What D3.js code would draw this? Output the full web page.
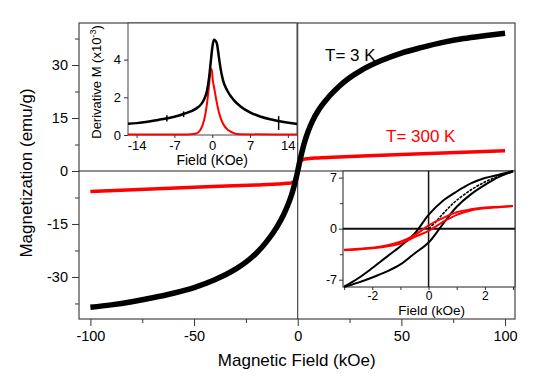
<!DOCTYPE html>
<html>
<head>
<meta charset="utf-8">
<script src="https://cdn.jsdelivr.net/npm/d3@7"></script>
<style>
  body { margin: 0; background: #fff; }
  svg { display: block; font-family: "Liberation Sans", Arial, sans-serif; }
  .tick text { fill: #000; }
</style>
</head>
<body>
<div id="chart"></div>
<script>
// Main M(H) curves (field in kOe, magnetization in emu/g)
const field3K = [-100,-90,-80,-70,-60,-50,-40,-30,-25,-20,-15,-10,-7,-5,-3,-2,-1,0,1,2,3,5,7,10,15,20,25,30,40,50,60,70,80,90,100];
const mag3K   = [-38.6,-37.9,-37.0,-35.9,-34.6,-33.0,-30.8,-27.8,-25.8,-23.3,-20.0,-15.8,-12.6,-10.0,-6.8,-4.8,-2.6,0,2.8,5.3,7.6,11.2,14.0,17.2,21.0,24.0,26.4,28.3,31.2,33.4,35.0,36.4,37.5,38.3,39.0];
const field300K = [-100,-50,-20,-10,-5,-3,-2,-1.5,-1,-0.5,0,0.5,1,1.5,2,3,5,10,20,50,100];
const mag300K   = [-5.8,-4.6,-3.95,-3.7,-3.5,-3.35,-3.1,-2.8,-2.2,-1.3,0,1.3,2.2,2.8,3.1,3.35,3.5,3.7,3.95,4.7,5.75];

// Upper inset: derivative of M (x10^-3)
const dField3K = [-15.6,-14,-12,-10,-8,-6,-4,-3,-2,-1.5,-1,-0.6,-0.3,0,0.3,0.6,0.9,1.2,1.5,2,2.8,4,5.3,7,9,11,13,15.7];
const dMag3K   = [0.6,0.63,0.7,0.8,0.9,1.05,1.25,1.4,1.65,1.9,2.3,3.0,3.8,4.6,5.05,5.0,4.8,4.2,3.6,2.9,2.35,1.85,1.5,1.2,0.97,0.82,0.7,0.58];
const dField300K = [-15.6,-5,-4,-3,-2.2,-1.5,-1,-0.6,-0.3,-0.1,0.1,0.3,0.6,1,1.5,2,3,4,5,15.7];
const dMag300K   = [0.02,0.03,0.04,0.08,0.27,0.8,1.6,2.6,3.5,3.5,2.9,2.6,2.1,1.5,0.95,0.6,0.25,0.1,0.04,0.02];
const dNoiseField = [-8.4, -5.3, 12.3];
const dNoiseLo    = [0.72, 0.95, 0.27];
const dNoiseHi    = [1.05, 1.25, 1.0];

// Lower inset: low-field hysteresis loops
const loopField     = [-3,-2.5,-2,-1.5,-1,-0.5,0,0.5,1,1.5,2,2.5,3];
const loop3KUpper   = [-7.95,-6.8,-5.4,-3.9,-2.4,-0.7,1.9,3.8,5.1,6.2,6.95,7.4,7.9];
const loop3KLower   = [-8.0,-7.4,-6.7,-5.9,-4.9,-3.4,-1.9,0.6,3.0,4.7,6.0,7.1,7.85];
const virginField   = [0,0.25,0.5,0.75,1,1.5,2,2.5,3];
const virgin3K      = [0,0.9,2.0,3.0,3.9,5.3,6.4,7.2,7.85];
const loop300KUpper = [-2.9,-2.75,-2.6,-2.3,-1.8,-0.9,0.45,1.45,2.25,2.65,2.9,3.0,3.1];
const loop300KLower = [-2.95,-2.85,-2.7,-2.45,-2.05,-1.15,-0.3,0.9,1.9,2.5,2.8,2.95,3.1];

const mainXTicks = [-100,-50,0,50,100];
const mainYTicks = [-30,-15,0,15,30];
const topXTicks = [-14,-7,0,7,14];
const topYTicks = [0,2,4];
const lowXTicks = [-2,0,2];
const lowYTicks = [-7,0,7];

const W = 550, H = 382;
const svg = d3.select("#chart").append("svg").attr("width", W).attr("height", H);
const zip = (xs, ys) => xs.map((x, i) => [x, ys[i]]);
const fmt = d => String(d);

// ---------- main panel ----------
const m = { left: 79, right: 515, top: 23, bottom: 319 };
const x = d3.scaleLinear().domain([-105.5, 104.8]).range([m.left, m.right]);
const y = d3.scaleLinear().domain([-41.9, 41.9]).range([m.bottom, m.top]);

function axisStyle(g, size) {
  g.select(".domain").remove();
  g.selectAll(".tick line").attr("stroke", "#333");
  g.selectAll(".tick text").attr("font-size", size);
}

// minor ticks
svg.append("g").attr("transform", `translate(0,${m.bottom})`)
  .call(d3.axisBottom(x).tickValues([-75,-25,25,75]).tickSize(4).tickFormat(""))
  .call(g => axisStyle(g, 0));
svg.append("g").attr("transform", `translate(${m.left},0)`)
  .call(d3.axisLeft(y).tickValues([-37.5,-22.5,-7.5,7.5,22.5,37.5]).tickSize(4).tickFormat(""))
  .call(g => axisStyle(g, 0));
// major ticks
svg.append("g").attr("transform", `translate(0,${m.bottom})`)
  .call(d3.axisBottom(x).tickValues(mainXTicks).tickSize(7).tickPadding(5).tickFormat(fmt))
  .call(g => axisStyle(g, 14.5));
svg.append("g").attr("transform", `translate(${m.left},0)`)
  .call(d3.axisLeft(y).tickValues(mainYTicks).tickSize(7).tickPadding(4).tickFormat(fmt))
  .call(g => axisStyle(g, 14.5));

svg.append("rect").attr("x", m.left).attr("y", m.top)
  .attr("width", m.right - m.left).attr("height", m.bottom - m.top)
  .attr("fill", "none").attr("stroke", "#444").attr("stroke-width", 1.2);

svg.append("line").attr("x1", m.left).attr("x2", m.right).attr("y1", y(0)).attr("y2", y(0))
  .attr("stroke", "#222").attr("stroke-width", 1);
svg.append("line").attr("x1", x(0)).attr("x2", x(0)).attr("y1", m.top).attr("y2", m.bottom)
  .attr("stroke", "#222").attr("stroke-width", 1);

const mainLine = d3.line().x(d => x(d[0])).y(d => y(d[1])).curve(d3.curveMonotoneX);
svg.append("path").attr("d", mainLine(zip(field300K, mag300K)))
  .attr("fill", "none").attr("stroke", "#ff0000").attr("stroke-width", 3.5);
svg.append("path").attr("d", mainLine(zip(field3K, mag3K)))
  .attr("fill", "none").attr("stroke", "#000").attr("stroke-width", 5.5);

svg.append("text").attr("x", 325).attr("y", 61).attr("font-size", 17).text("T= 3 K");
svg.append("text").attr("x", 386).attr("y", 142).attr("font-size", 17).attr("fill", "#ff0000").text("T= 300 K");

svg.append("text").attr("transform", `translate(32,${(m.top + m.bottom) / 2 + 2}) rotate(-90)`)
  .attr("text-anchor", "middle").attr("font-size", 17).text("Magnetization (emu/g)");
svg.append("text").attr("x", x(0) - 1).attr("y", 366)
  .attr("text-anchor", "middle").attr("font-size", 17).text("Magnetic Field (kOe)");

// ---------- upper-left inset ----------
const a = { left: 128, right: 297, top: 23, bottom: 135 };
const ax = d3.scaleLinear().domain([-15.6, 15.7]).range([a.left, a.right]);
const ay = d3.scaleLinear().domain([0, 5.94]).range([a.bottom, a.top]);
const ag = svg.append("g");
ag.append("rect").attr("x", a.left).attr("y", a.top)
  .attr("width", a.right - a.left).attr("height", a.bottom - a.top)
  .attr("fill", "#fff").attr("stroke", "#444").attr("stroke-width", 1);
ag.append("g").attr("transform", `translate(0,${a.bottom})`)
  .call(d3.axisBottom(ax).tickValues(topXTicks).tickSize(3).tickPadding(3).tickFormat(fmt))
  .call(g => axisStyle(g, 13));
ag.append("g").attr("transform", `translate(${a.left},0)`)
  .call(d3.axisLeft(ay).tickValues(topYTicks).tickSize(4).tickPadding(3).tickFormat(fmt))
  .call(g => axisStyle(g, 13));

const aLine = d3.line().x(d => ax(d[0])).y(d => ay(d[1])).curve(d3.curveMonotoneX);
ag.append("path").attr("d", aLine(zip(dField300K, dMag300K)))
  .attr("fill", "none").attr("stroke", "#ff0000").attr("stroke-width", 2);
ag.append("path").attr("d", aLine(zip(dField3K, dMag3K)))
  .attr("fill", "none").attr("stroke", "#000").attr("stroke-width", 2.5);
ag.selectAll("line.noise").data(dNoiseField).join("line").attr("class", "noise")
  .attr("x1", d => ax(d)).attr("x2", d => ax(d))
  .attr("y1", (d, i) => ay(dNoiseLo[i])).attr("y2", (d, i) => ay(dNoiseHi[i]))
  .attr("stroke", "#000").attr("stroke-width", 1.5);

const aLab = ag.append("text").attr("transform", `translate(101,${(a.top + a.bottom) / 2 + 3}) rotate(-90)`)
  .attr("text-anchor", "middle").attr("font-size", 13);
aLab.append("tspan").text("Derivative M (x10");
aLab.append("tspan").attr("dy", -5).attr("font-size", 9).text("-3");
aLab.append("tspan").attr("dy", 5).text(")");
ag.append("text").attr("x", ax(0)).attr("y", 165).attr("text-anchor", "middle")
  .attr("font-size", 14).text("Field (KOe)");

// ---------- lower-right inset ----------
const b = { left: 343, right: 515, top: 171, bottom: 287 };
const bx = d3.scaleLinear().domain([-3.04, 3.07]).range([b.left, b.right]);
const by = d3.scaleLinear().domain([-8.0, 7.91]).range([b.bottom, b.top]);
const bg = svg.append("g");
bg.append("rect").attr("x", b.left).attr("y", b.top)
  .attr("width", b.right - b.left).attr("height", b.bottom - b.top)
  .attr("fill", "#fff").attr("stroke", "#444").attr("stroke-width", 1.2);
bg.append("g").attr("transform", `translate(0,${b.bottom})`)
  .call(d3.axisBottom(bx).tickValues([-3,-1,1,3]).tickSize(3).tickFormat(""))
  .call(g => axisStyle(g, 0));
bg.append("g").attr("transform", `translate(0,${b.bottom})`)
  .call(d3.axisBottom(bx).tickValues(lowXTicks).tickSize(3).tickPadding(1).tickFormat(fmt))
  .call(g => axisStyle(g, 12));
bg.append("g").attr("transform", `translate(${b.left},0)`)
  .call(d3.axisLeft(by).tickValues([-3.5,3.5]).tickSize(3).tickFormat(""))
  .call(g => axisStyle(g, 0));
bg.append("g").attr("transform", `translate(${b.left},0)`)
  .call(d3.axisLeft(by).tickValues(lowYTicks).tickSize(4).tickPadding(2).tickFormat(fmt))
  .call(g => axisStyle(g, 12.5));

bg.append("line").attr("x1", b.left).attr("x2", b.right).attr("y1", by(0)).attr("y2", by(0))
  .attr("stroke", "#111").attr("stroke-width", 2);
bg.append("line").attr("x1", bx(0)).attr("x2", bx(0)).attr("y1", b.top).attr("y2", b.bottom)
  .attr("stroke", "#111").attr("stroke-width", 1.5);

const bLine = d3.line().x(d => bx(d[0])).y(d => by(d[1])).curve(d3.curveCatmullRom);
[loop3KUpper, loop3KLower].forEach(v => {
  bg.append("path").attr("d", bLine(zip(loopField, v)))
    .attr("fill", "none").attr("stroke", "#000").attr("stroke-width", 2);
});
bg.append("path").attr("d", bLine(zip(virginField, virgin3K)))
  .attr("fill", "none").attr("stroke", "#000").attr("stroke-width", 1.6)
  .attr("stroke-dasharray", "3,1");
[loop300KUpper, loop300KLower].forEach(v => {
  bg.append("path").attr("d", bLine(zip(loopField, v)))
    .attr("fill", "none").attr("stroke", "#ff0000").attr("stroke-width", 2);
});

bg.append("text").attr("x", bx(0) + 3).attr("y", 315).attr("text-anchor", "middle")
  .attr("font-size", 13.5).text("Field (kOe)");
</script>
</body>
</html>
